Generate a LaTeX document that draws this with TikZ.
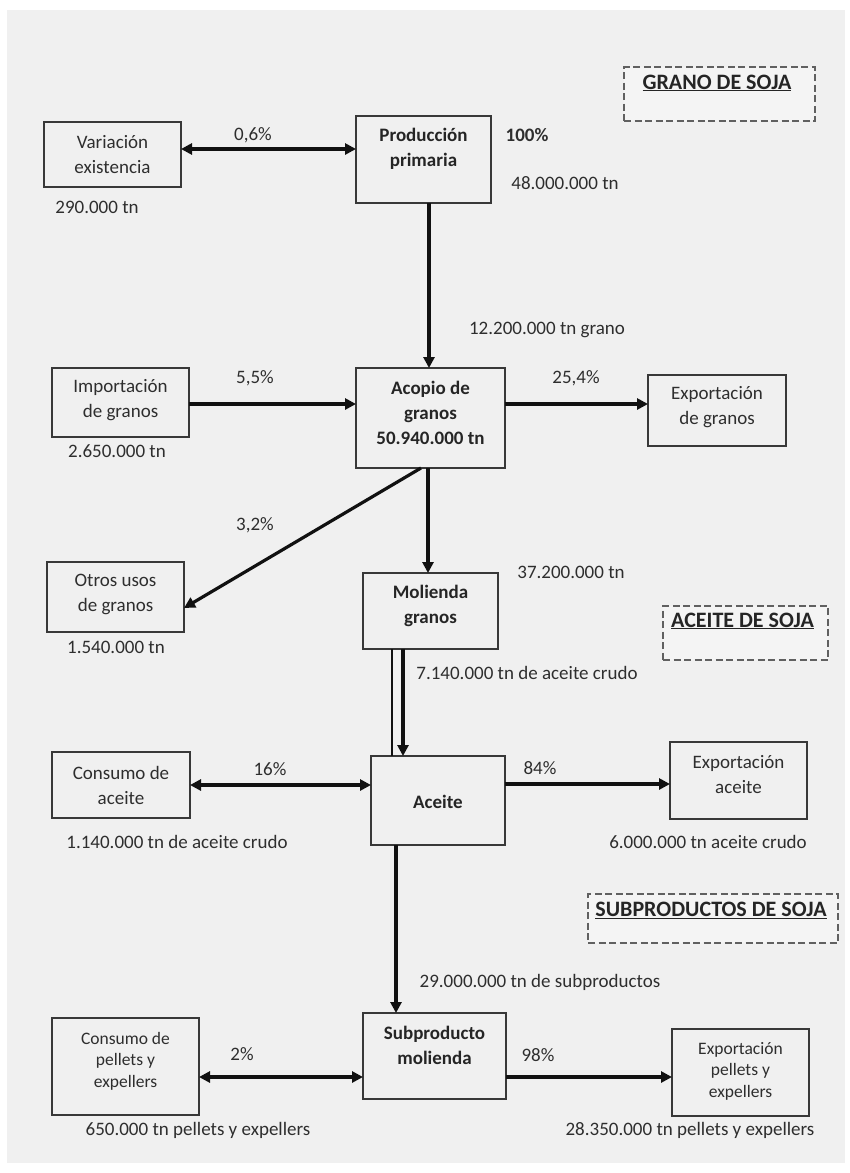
\documentclass[tikz,border=0pt]{standalone}
\usepackage{fontspec}
\setmainfont{Carlito}
\usetikzlibrary{arrows.meta,calc}
\definecolor{bgc}{HTML}{F0F0F0}
\definecolor{txc}{HTML}{2E2E2E}
\definecolor{lnc}{HTML}{111111}
\definecolor{bxc}{HTML}{383838}
\begin{document}
\begin{tikzpicture}[x=1pt,y=-1pt,
  box/.style={draw=bxc,line width=2.1pt,fill=bgc,inner sep=0pt,outer sep=0pt},
  title/.style={draw=bxc!80,dashed,dash pattern=on 7pt off 3.5pt,line width=1.6pt,fill=bgc!70!white,inner sep=0pt,outer sep=0pt},
  txt/.style={text=txc,align=center,inner sep=0pt,font=\fontsize{19}{25}\selectfont},
  stxt/.style={text=txc,align=center,inner sep=0pt,font=\fontsize{17.5}{21.5}\selectfont},
  btxt/.style={text=txc!80!black,align=center,inner sep=0pt,font=\fontsize{19}{25}\selectfont\bfseries},
  ttxt/.style={text=txc!80!black,inner sep=0pt,font=\fontsize{22}{26}\selectfont\bfseries},
  lbl/.style={text=txc,inner sep=0pt,font=\fontsize{19}{23}\selectfont},
  arr/.style={draw=lnc,line width=3.2pt,-{Triangle[length=11pt,width=11pt]}},
  darr/.style={draw=lnc,line width=3.2pt,{Triangle[length=11pt,width=11pt]}-{Triangle[length=11pt,width=11pt]}},
  thin/.style={draw=lnc,line width=1.4pt}]
\useasboundingbox (0,0) rectangle (850,1173);
\fill[white] (0,0) rectangle (850,1173);
\fill[bgc] (7,10) rectangle (845,1163);

% section titles
\node[title,minimum width=191pt,minimum height=54pt] (t1) at (719.5,94) {};
\node[ttxt] (t1t) at (717,83) {\underline{GRANO DE SOJA}};
\node[title,minimum width=165pt,minimum height=54pt] (t2) at (745.5,633) {};
\node[ttxt] (t2t) at (742.5,621) {\underline{ACEITE DE SOJA}};
\node[title,minimum width=250pt,minimum height=49pt] (t3) at (713,918.5) {};
\node[ttxt] (t3t) at (711,910) {\underline{SUBPRODUCTOS DE SOJA}};

% boxes
\node[box,minimum width=137pt,minimum height=65pt] (var) at (112.5,154.5) {};
\node[txt] (varT) at (112.5,154.5) {Variación\\existencia};
\node[box,minimum width=135pt,minimum height=87pt] (prod) at (423.5,159.5) {};
\node[btxt] (prodT) at (423.5,148.5) {Producción\\primaria};
\node[box,minimum width=137pt,minimum height=69pt] (imp) at (120.5,402.5) {};
\node[txt] (impT) at (120.5,400) {Importación\\de granos};
\node[box,minimum width=149pt,minimum height=100pt] (aco) at (430.5,418) {};
\node[btxt] (acoT) at (430.5,413) {Acopio de\\granos\\50.940.000 tn};
\node[box,minimum width=138pt,minimum height=71pt] (expg) at (717,410.5) {};
\node[txt] (expgT) at (717,407.5) {Exportación\\de granos};
\node[box,minimum width=137pt,minimum height=70pt] (otr) at (115.5,597) {};
\node[txt] (otrT) at (115.5,594.5) {Otros usos\\de granos};
\node[box,minimum width=135pt,minimum height=76pt] (mol) at (430.5,611) {};
\node[btxt] (molT) at (430.5,605.5) {Molienda\\granos};
\node[box,minimum width=138pt,minimum height=66pt] (conA) at (121,785) {};
\node[txt] (conAT) at (121,785) {Consumo de\\aceite};
\node[box,minimum width=134pt,minimum height=89pt] (ace) at (438,800.5) {};
\node[btxt] (aceT) at (438,802) {Aceite};
\node[box,minimum width=137pt,minimum height=77pt] (expA) at (738.5,780.5) {};
\node[txt] (expAT) at (738.5,774.5) {Exportación\\aceite};
\node[box,minimum width=147pt,minimum height=97pt] (conP) at (125.5,1066.5) {};
\node[stxt] (conPT) at (125.5,1061) {Consumo de\\pellets y\\expellers};
\node[box,minimum width=143pt,minimum height=86pt] (sub) at (434.5,1056) {};
\node[btxt] (subT) at (434.5,1045.5) {Subproducto\\molienda};
\node[box,minimum width=137pt,minimum height=87pt] (expP) at (740.5,1072.5) {};
\node[stxt] (expPT) at (740.5,1071) {Exportación\\pellets y\\expellers};

% connectors
\draw[darr] ([yshift=5.5pt]var.east) -- ([yshift=5.5pt]var.east -| prod.west);
\draw[arr] ([xshift=5.5pt]prod.south) -- ([xshift=5.5pt]prod.south |- aco.north);
\draw[arr] ([yshift=-1.5pt]imp.east) -- ([yshift=-1.5pt]imp.east -| aco.west);
\draw[arr] ([yshift=14pt]aco.east) -- ([yshift=14pt]aco.east -| expg.west);
\draw[arr] ([xshift=-9.5pt]aco.south) -- ([yshift=-11pt]otr.east);
\draw[arr] ([xshift=-2.5pt]aco.south) -- ([xshift=-2.5pt]aco.south |- mol.north);
\draw[thin] ([xshift=-38.5pt]mol.south) -- ([xshift=-38.5pt]mol.south |- ace.north);
\draw[arr] ([xshift=-27.5pt]mol.south) -- ([xshift=-27.5pt]mol.south |- ace.north);
\draw[darr] (conA.east) -- (conA.east -| ace.west);
\draw[arr] ([yshift=16.5pt]ace.east) -- ([yshift=16.5pt]ace.east -| expA.west);
\draw[arr] ([xshift=-42pt]ace.south) -- ([xshift=-42pt]ace.south |- sub.north);
\draw[darr] ([yshift=-10.5pt]conP.east) -- ([yshift=-10.5pt]conP.east -| sub.west);
\draw[arr] ([yshift=-21pt]sub.east) -- ([yshift=-21pt]sub.east -| expP.west);

% labels
\node[lbl] (l1) at (253,135) {0,6\%};
\node[lbl,font=\fontsize{19}{23}\selectfont\bfseries] (l2) at (527,135) {100\%};
\node[lbl] (l3) at (565,183) {48.000.000 tn};
\node[lbl] (l4) at (97,207) {290.000 tn};
\node[lbl] (l5) at (547,330) {12.200.000 tn grano};
\node[lbl] (l6) at (255,378) {5,5\%};
\node[lbl] (l7) at (576,378) {25,4\%};
\node[lbl] (l8) at (117,451) {2.650.000 tn};
\node[lbl] (l9) at (255,525) {3,2\%};
\node[lbl] (l10) at (116,647) {1.540.000 tn};
\node[lbl] (l11) at (571,572) {37.200.000 tn};
\node[lbl] (l12) at (527,673) {7.140.000 tn de aceite crudo};
\node[lbl] (l13) at (270,769) {16\%};
\node[lbl] (l14) at (540,768) {84\%};
\node[lbl] (l15) at (177,842) {1.140.000 tn de aceite crudo};
\node[lbl] (l16) at (708,842) {6.000.000 tn aceite crudo};
\node[lbl] (l17) at (540,982) {29.000.000 tn de subproductos};
\node[lbl] (l18) at (242,1054) {2\%};
\node[lbl] (l19) at (538,1055) {98\%};
\node[lbl] (l20) at (198,1130) {650.000 tn pellets y expellers};
\node[lbl] (l21) at (690,1130) {28.350.000 tn pellets y expellers};
\end{tikzpicture}
\end{document}
